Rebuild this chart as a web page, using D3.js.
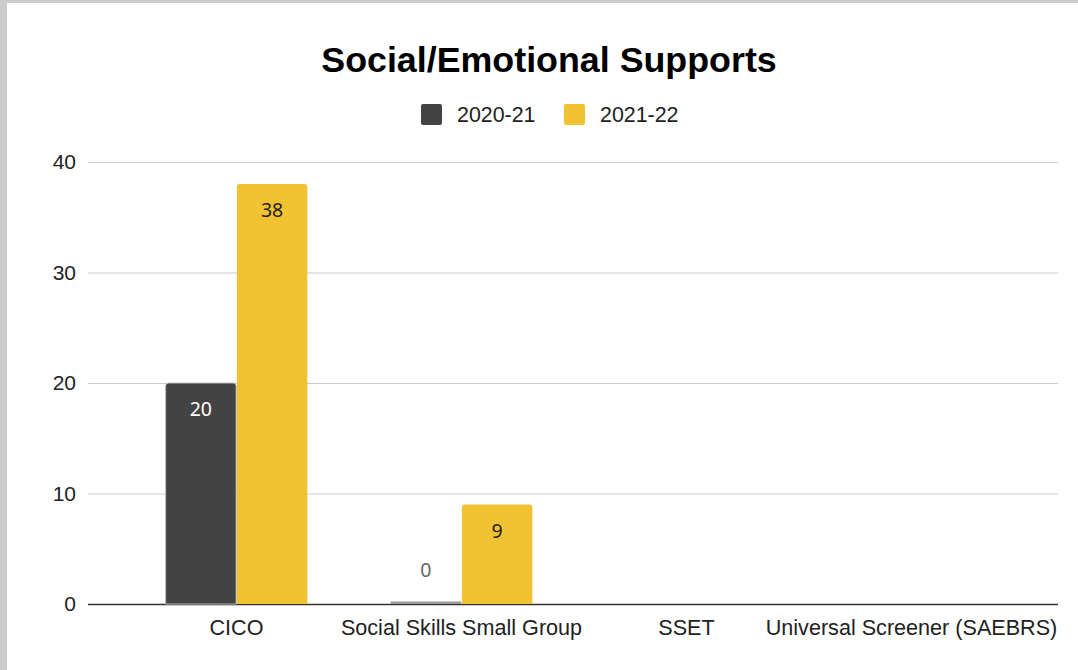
<!DOCTYPE html>
<html><head><meta charset="utf-8">
<script src="https://cdn.jsdelivr.net/npm/d3@7"></script>
<style>html,body{margin:0;padding:0;background:#fff;}svg{display:block;}</style>
</head><body>
<svg id="c" width="1078" height="670"></svg>
<script>
const categories = ["CICO", "Social Skills Small Group", "SSET", "Universal Screener (SAEBRS)"];
const seriesNames = ["2020-21", "2021-22"];
const values2020 = [20, 0, null, null];
const values2021 = [38, 9, null, null];
const yTicks = [0, 10, 20, 30, 40];
const colors = ["#434343", "#f1c232"];
const labelColors = ["#ffffff", "#222222"];

const svg = d3.select("#c");
// frame
svg.append("rect").attr("x",0).attr("y",0).attr("width",1078).attr("height",670).attr("fill","#cccccc");
svg.append("rect").attr("x",7).attr("y",3).attr("width",1071).attr("height",667).attr("fill","#ffffff");

const y = d3.scaleLinear().domain([0,40]).range([604,162]);
const x0 = d3.scaleBand().domain(categories).range([124,1024]).paddingInner(0.37).paddingOuter(0.185);
const x1 = d3.scaleBand().domain(seriesNames).range([0,x0.bandwidth()]).paddingInner(0.01);

// title
svg.append("text").attr("x",549).attr("y",72).attr("text-anchor","middle")
  .attr("font-family","Liberation Sans, Arial, sans-serif").attr("font-weight","bold").attr("font-size",35.8)
  .attr("fill","#000").text("Social/Emotional Supports");

// legend
const legX = [421, 564];
seriesNames.forEach((s,i)=>{
  svg.append("rect").attr("x",legX[i]).attr("y",104).attr("width",21).attr("height",21).attr("rx",2).attr("fill",colors[i]);
  svg.append("text").attr("x",legX[i]+36).attr("y",122).attr("font-family","Liberation Sans, Arial, sans-serif")
    .attr("font-size",21.4).attr("fill","#222").text(s);
});

// gridlines
const yAxis = d3.axisLeft(y).tickValues(yTicks).tickSize(-970).tickPadding(12);
const gy = svg.append("g").attr("transform","translate(88,0)").call(yAxis);
gy.select(".domain").remove();
gy.selectAll(".tick line").attr("stroke","#cccccc").attr("stroke-width",1.2);
gy.selectAll(".tick text").attr("font-family","Liberation Sans, Arial, sans-serif").attr("font-size",21).attr("fill","#222");
gy.selectAll(".tick").filter(d=>d===0).select("line").attr("stroke","#333").attr("stroke-width",1.6);

// bars
const series = [values2020, values2021];
series.forEach((vals,si)=>{
  const g = svg.append("g");
  categories.forEach((c,ci)=>{
    const v = vals[ci];
    if (v === null) return;
    const bx = x0(c) + x1(seriesNames[si]);
    const bw = x1.bandwidth();
    if (v === 0) {
      g.append("rect").attr("x",bx).attr("y",y(0)-2.5).attr("width",bw).attr("height",2.5).attr("fill","#999");
      g.append("text").attr("x",bx+bw/2).attr("y",y(0)-27).attr("text-anchor","middle")
        .attr("font-family","Noto Sans, Roboto, sans-serif").attr("font-size",19.5).attr("fill","#666").text(v);
      return;
    }
    const top = y(v), h = y(0)-top;
    g.append("path").attr("d",
      `M${bx},${y(0)} V${top+3} Q${bx},${top} ${bx+3},${top} H${bx+bw-3} Q${bx+bw},${top} ${bx+bw},${top+3} V${y(0)} Z`)
      .attr("fill",colors[si]).attr("stroke", si===0?"#bbbbbb":"none").attr("stroke-width",1);
    g.append("text").attr("x",bx+bw/2).attr("y",top+33).attr("text-anchor","middle")
      .attr("font-family","Noto Sans, Roboto, sans-serif").attr("font-size",19.5).attr("fill",labelColors[si]).text(v);
  });
});

// x labels
const xAxis = d3.axisBottom(x0).tickSize(0).tickPadding(16);
const gx = svg.append("g").attr("transform",`translate(0,${y(0)})`).call(xAxis);
gx.select(".domain").remove();
gx.selectAll(".tick text").attr("font-family","Liberation Sans, Arial, sans-serif").attr("font-size",21.6).attr("fill","#222");
</script>
</body></html>
